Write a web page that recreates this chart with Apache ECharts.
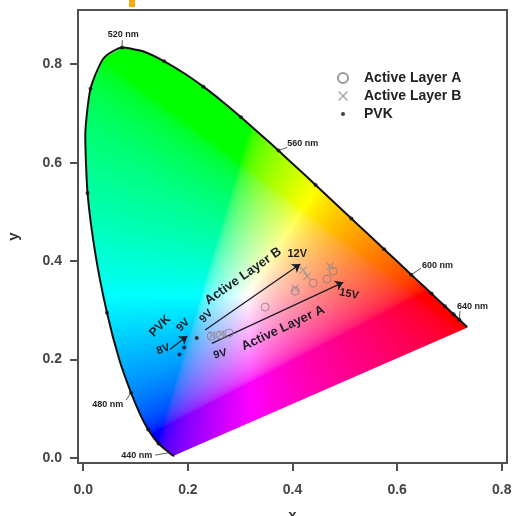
<!DOCTYPE html>
<html><head><meta charset="utf-8">
<script src="https://cdn.jsdelivr.net/npm/echarts@6/dist/echarts.min.js"></script>
<style>html,body{margin:0;padding:0;background:#fff}#c{width:514px;height:516px}</style>
</head><body><div id="c"></div>
<script>
// CIE 1931 spectral locus, 380–700 nm in 5 nm steps
const wavelengths = [380,385,390,395,400,405,410,415,420,425,430,435,440,445,450,455,460,465,470,475,480,485,490,495,500,505,510,515,520,525,530,535,540,545,550,555,560,565,570,575,580,585,590,595,600,605,610,615,620,625,630,635,640,645,650,655,660,665,670,675,680,685,690,695,700];
const locusX = [0.1741,0.1740,0.1738,0.1736,0.1733,0.1730,0.1726,0.1721,0.1714,0.1703,0.1689,0.1669,0.1644,0.1611,0.1566,0.1510,0.1440,0.1355,0.1241,0.1096,0.0913,0.0687,0.0454,0.0235,0.0082,0.0039,0.0139,0.0389,0.0743,0.1142,0.1547,0.1929,0.2296,0.2658,0.3016,0.3373,0.3731,0.4087,0.4441,0.4788,0.5125,0.5448,0.5752,0.6029,0.6270,0.6482,0.6658,0.6801,0.6915,0.7006,0.7079,0.7140,0.7190,0.7230,0.7260,0.7283,0.7300,0.7311,0.7320,0.7327,0.7334,0.7340,0.7344,0.7346,0.7347];
const locusY = [0.0050,0.0050,0.0049,0.0049,0.0048,0.0048,0.0048,0.0048,0.0051,0.0058,0.0069,0.0086,0.0109,0.0138,0.0177,0.0227,0.0297,0.0399,0.0578,0.0868,0.1327,0.2007,0.2950,0.4127,0.5384,0.6548,0.7502,0.8120,0.8338,0.8262,0.8059,0.7816,0.7543,0.7243,0.6923,0.6589,0.6245,0.5896,0.5547,0.5202,0.4866,0.4544,0.4242,0.3965,0.3725,0.3514,0.3340,0.3197,0.3083,0.2993,0.2920,0.2859,0.2809,0.2770,0.2740,0.2717,0.2700,0.2689,0.2680,0.2673,0.2666,0.2660,0.2656,0.2654,0.2653];
const markNm = [460,470,480,490,500,510,520,530,540,550,560,570,580,590,600,610,620,630,640];
const wlLabelNm = [440,480,520,560,600,640];

// measured points
const layerAx = [0.2445,0.2617,0.2789,0.3477,0.405,0.4394,0.466,0.4776];
const layerAy = [0.2477,0.2497,0.2538,0.3066,0.339,0.3553,0.3635,0.3797];
const layerBx = [0.2464,0.2636,0.405,0.4203,0.428,0.4718];
const layerBy = [0.2497,0.2518,0.345,0.3817,0.3695,0.3898];
const pvkX = [0.184,0.193,0.217];
const pvkY = [0.2105,0.2248,0.244];

const xTicks = [0, 0.2, 0.4, 0.6, 0.8];
const yTicks = [0, 0.2, 0.4, 0.6, 0.8];

// annotation layout (data coordinates)
const wlLabelLayout = {
  440: {pos:[0.1318,0.0061], lead:[0.1375,0.0061], align:'right'},
  480: {pos:[0.0764,0.1096], lead:[0.0821,0.1178], align:'right'},
  520: {pos:[0.0764,0.861],  lead:[0.0745,0.849],  align:'center'},
  560: {pos:[0.390,0.638],   lead:[0.390,0.631],   align:'left'},
  600: {pos:[0.6476,0.392],  lead:[0.6457,0.3858], align:'left'},
  640: {pos:[0.7144,0.3086], lead:[0.720,0.2985],  align:'left'}
};
const annotTexts = ['Active Layer B','Active Layer A','PVK','9V','8V','9V','9V','12V','15V'];
const annotLayout = [
  {pos:[0.3057,0.3695], rot:35, size:13},
  {pos:[0.382,0.264], rot:25, size:13},
  {pos:[0.147,0.268], rot:45, size:12},
  {pos:[0.191,0.270], rot:45, size:11},
  {pos:[0.153,0.221], rot:20, size:11},
  {pos:[0.235,0.288], rot:45, size:11},
  {pos:[0.262,0.211], rot:15, size:11},
  {pos:[0.409,0.414], rot:0, size:11},
  {pos:[0.508,0.333], rot:-12, size:11}
];
const arrows = [
  [[0.233,0.26],[0.415,0.394]],
  [[0.246,0.233],[0.497,0.357]],
  [[0.166,0.221],[0.199,0.248]]
];

const idxOf = nm => wavelengths.indexOf(nm);
const FONT = 'Liberation Sans, Arial, sans-serif';

function xyToRgb(x, y) {
  const X = x / y, Y = 1, Z = (1 - x - y) / y;
  let r = 3.2406*X - 1.5372*Y - 0.4986*Z;
  let g = -0.9689*X + 1.8758*Y + 0.0415*Z;
  let b = 0.0557*X - 0.2040*Y + 1.0570*Z;
  r = Math.max(r, 0); g = Math.max(g, 0); b = Math.max(b, 0);
  const m = Math.max(r, g, b) || 1;
  const gam = v => { v /= m; return v <= 0.0031308 ? 12.92*v : 1.055*Math.pow(v, 1/2.4) - 0.055; };
  return [gam(r)*255, gam(g)*255, gam(b)*255];
}

let fillCanvas = null, fillKey = '';
function renderFill(params, api) {
  const cs = params.coordSys;
  const w = Math.round(cs.width), h = Math.round(cs.height);
  const p0 = api.coord([0, 0]), p1 = api.coord([1, 1]);
  const sx = p1[0] - p0[0], sy = p1[1] - p0[1];
  const key = [w, h, p0[0], p0[1], sx, sy].join(',');
  if (key !== fillKey) {
    fillKey = key;
    const c1 = document.createElement('canvas'); c1.width = w; c1.height = h;
    const ctx1 = c1.getContext('2d');
    const img = ctx1.createImageData(w, h);
    for (let j = 0; j < h; j++) {
      const yv = (cs.y + j + 0.5 - p0[1]) / sy;
      for (let i = 0; i < w; i++) {
        const xv = (cs.x + i + 0.5 - p0[0]) / sx;
        const k = (j*w + i) * 4;
        if (yv > 0.001) {
          const c = xyToRgb(xv, yv);
          img.data[k] = c[0]; img.data[k+1] = c[1]; img.data[k+2] = c[2]; img.data[k+3] = 255;
        }
      }
    }
    ctx1.putImageData(img, 0, 0);
    const c2 = document.createElement('canvas'); c2.width = w; c2.height = h;
    const ctx = c2.getContext('2d');
    ctx.beginPath();
    locusX.forEach((x, i) => {
      const p = api.coord([x, locusY[i]]);
      if (i === 0) ctx.moveTo(p[0] - cs.x, p[1] - cs.y); else ctx.lineTo(p[0] - cs.x, p[1] - cs.y);
    });
    ctx.closePath();
    ctx.fillStyle = '#fff';
    ctx.fill();
    ctx.globalCompositeOperation = 'source-in';
    ctx.drawImage(c1, 0, 0);
    fillCanvas = c2;
  }
  return {type: 'image', silent: true, style: {image: fillCanvas, x: cs.x, y: cs.y, width: w, height: h}};
}

function renderWl(params, api) {
  const nm = wlLabelNm[params.dataIndex];
  const L = wlLabelLayout[nm];
  const pt = api.coord([api.value(0), api.value(1)]);
  const tp = api.coord(L.pos), le = api.coord(L.lead);
  return {type: 'group', children: [
    {type: 'line', shape: {x1: pt[0], y1: pt[1], x2: le[0], y2: le[1]}, style: {stroke: '#333', lineWidth: 0.8}},
    {type: 'text', x: tp[0], y: tp[1], style: {text: nm + ' nm', fill: '#222', font: 'bold 9px ' + FONT, align: L.align, verticalAlign: 'middle'}}
  ]};
}

function renderAnnot(params, api) {
  const L = annotLayout[params.dataIndex];
  const p = api.coord(L.pos);
  return {type: 'text', x: p[0], y: p[1], rotation: L.rot * Math.PI / 180,
    style: {text: annotTexts[params.dataIndex], fill: '#1c1c28', font: 'bold ' + L.size + 'px ' + FONT, align: 'center', verticalAlign: 'middle'}};
}

const crossPath = 'path://M0,1L1,0L5,4L9,0L10,1L6,5L10,9L9,10L5,6L1,10L0,9L4,5Z';
const smallDotIcon = 'path://M0,0L0.01,0L0,0.01ZM10,10L9.99,10L10,9.99ZM3,5A2,2 0 1,0 7,5A2,2 0 1,0 3,5Z';
const axisCommon = {
  type: 'value', splitLine: {show: false},
  axisLine: {show: true, onZero: false, lineStyle: {color: '#505050', width: 2}},
  axisTick: {show: true, inside: false, length: 8, lineStyle: {color: '#505050', width: 2}},
  nameTextStyle: {fontSize: 15, fontWeight: 'bold', color: '#333', fontFamily: FONT}
};

const chart = echarts.init(document.getElementById('c'), null, {renderer: 'canvas'});
chart.setOption({
  backgroundColor: '#fff',
  animation: false,
  grid: {left: 78, right: 7, top: 10, bottom: 53, show: true, borderColor: '#505050', borderWidth: 2, backgroundColor: 'transparent', containLabel: false, outerBoundsMode: 'none'},
  xAxis: Object.assign({}, axisCommon, {
    min: -0.01, max: 0.81, name: 'x', nameLocation: 'middle', nameGap: 45,
    axisTick: Object.assign({}, axisCommon.axisTick, {customValues: xTicks}),
    axisLabel: {customValues: xTicks, formatter: v => v.toFixed(1), margin: 20, fontSize: 14, fontWeight: 'bold', color: '#444', fontFamily: FONT}
  }),
  yAxis: Object.assign({}, axisCommon, {
    min: -0.01, max: 0.91, name: 'y', nameLocation: 'middle', nameGap: 57,
    axisTick: Object.assign({}, axisCommon.axisTick, {customValues: yTicks}),
    axisLabel: {customValues: yTicks, formatter: v => v.toFixed(1), margin: 16, fontSize: 14, fontWeight: 'bold', color: '#444', fontFamily: FONT}
  }),
  legend: {
    orient: 'vertical', left: 332, top: 66, itemWidth: 10, itemHeight: 10, itemGap: 4,
    data: ['Active Layer A', 'Active Layer B', {name: 'PVK', icon: smallDotIcon}],
    textStyle: {fontSize: 14, fontWeight: 'bold', color: '#222', fontFamily: FONT, padding: [0, 0, 0, 11]}
  },
  graphic: [{type: 'rect', shape: {x: 129, y: 0, width: 6, height: 7}, style: {fill: '#f5ad10'}}],
  series: [
    {type: 'custom', name: 'fill', renderItem: renderFill, data: [[0, 0]], z: 1, silent: true, clip: true},
    {type: 'line', name: 'locus', data: locusX.map((x, i) => [x, locusY[i]]), showSymbol: false, smooth: 0.2,
      lineStyle: {color: '#111', width: 2}, z: 3, silent: true},
    {type: 'scatter', name: 'marks', data: markNm.map(nm => [locusX[idxOf(nm)], locusY[idxOf(nm)]]),
      symbol: 'circle', symbolSize: 4, itemStyle: {color: '#111'}, z: 4, silent: true},
    {type: 'custom', name: 'wl', renderItem: renderWl, data: wlLabelNm.map(nm => [locusX[idxOf(nm)], locusY[idxOf(nm)]]), z: 7, silent: true, clip: false},
    {type: 'lines', name: 'arrows', coordinateSystem: 'cartesian2d', data: arrows.map(c => ({coords: c})),
      symbol: ['none', 'arrow'], symbolSize: 8, lineStyle: {color: '#1c1c28', width: 1.3, opacity: 1, curveness: 0}, z: 5, silent: true},
    {type: 'scatter', name: 'Active Layer A', data: layerAx.map((x, i) => [x, layerAy[i]]),
      symbol: 'circle', symbolSize: 8, itemStyle: {color: 'rgba(0,0,0,0)', borderColor: '#808080', borderWidth: 1}, z: 6},
    {type: 'scatter', name: 'Active Layer B', data: layerBx.map((x, i) => [x, layerBy[i]]),
      symbol: crossPath, symbolSize: 8, itemStyle: {color: '#909090'}, z: 6},
    {type: 'scatter', name: 'PVK', data: pvkX.map((x, i) => [x, pvkY[i]]),
      symbol: 'circle', symbolSize: 4, itemStyle: {color: '#111'}, z: 6},
    {type: 'custom', name: 'annot', renderItem: renderAnnot, data: annotTexts.map((t, i) => annotLayout[i].pos), z: 7, silent: true, clip: false}
  ]
});
</script></body></html>
